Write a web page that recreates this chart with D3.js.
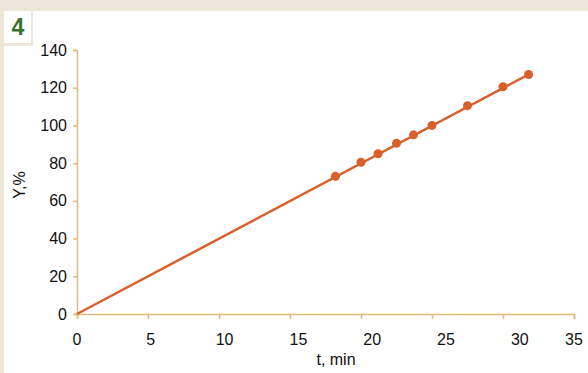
<!DOCTYPE html>
<html>
<head>
<meta charset="utf-8">
<script src="https://cdn.jsdelivr.net/npm/d3@7"></script>
<style>
	html, body { margin: 0; padding: 0; background: #ede6d9; }
	svg { display: block; }
	text { font-family: "Liberation Sans", Arial, sans-serif; }
</style>
</head>
<body>
<svg id="chart" width="588" height="373"></svg>
<script>
'use strict';

// measured points, t (min) vs Y (%)
var tValues = [18.2, 20.0, 21.2, 22.5, 23.7, 25.0, 27.5, 30.0, 31.8];
var yValues = [73, 80.5, 85, 90.5, 95, 100, 110.5, 120.5, 127];
// line drawn from the origin through the points
var lineT = [0, 31.8];
var lineY = [0, 127];
var xTicks = [0, 5, 10, 15, 20, 25, 30, 35];
var yTicks = [0, 20, 40, 60, 80, 100, 120, 140];
var panelNumber = '4';

var axisColor = '#e0ba7c',
	seriesColor = '#d95f2b';

var svg = d3.select('#chart');

// white panels with the beige frame round the number box
svg.append('rect').attr('x', 4).attr('y', 11).attr('width', 584).attr('height', 362).attr('fill', '#fff');
svg.append('rect').attr('x', 31).attr('y', 11).attr('width', 2).attr('height', 35).attr('fill', '#ede6d9');
svg.append('rect').attr('x', 4).attr('y', 43).attr('width', 29).attr('height', 3).attr('fill', '#ede6d9');
svg.append('text')
	.attr('x', 18).attr('y', 35)
	.attr('text-anchor', 'middle')
	.attr('font-size', 23).attr('font-weight', 'bold')
	.attr('fill', '#3b7230')
	.text(panelNumber);

var x = d3.scaleLinear().domain([0, 35]).range([77, 574]);
var y = d3.scaleLinear().domain([0, 140]).range([314, 50]);
// the tick labels sit a little wider apart than the ticks, as in the source
var xLabel = d3.scaleLinear().domain([0, 35]).range([77, 77 + 73.8 * 7]);

// y axis
var yAxis = svg.append('g').attr('transform', 'translate(' + x(0) + ',0)')
	.call(d3.axisLeft(y).tickValues(yTicks).tickSize(4).tickPadding(6));
yAxis.select('.domain').attr('stroke', axisColor).attr('stroke-width', 1.5);
yAxis.selectAll('.tick line').attr('stroke', axisColor).attr('stroke-width', 1.5);
yAxis.selectAll('.tick text')
	.attr('font-size', 16).attr('fill', '#111')
	.attr('font-family', '"Liberation Sans", Arial, sans-serif');

// x axis
var xAxis = svg.append('g').attr('transform', 'translate(0,' + y(0) + ')')
	.call(d3.axisBottom(x).tickValues(xTicks).tickSize(5).tickFormat(''));
xAxis.select('.domain').attr('stroke', axisColor).attr('stroke-width', 1.5);
xAxis.selectAll('.tick line').attr('stroke', axisColor).attr('stroke-width', 1.5);

svg.append('g').selectAll('text')
	.data(xTicks)
	.enter().append('text')
	.attr('x', function (d) { return Math.min(xLabel(d), x(35)); })
	.attr('y', 345)
	.attr('text-anchor', 'middle')
	.attr('font-size', 16).attr('fill', '#111')
	.text(function (d) { return d; });

// axis titles
svg.append('text')
	.attr('x', 336).attr('y', 365)
	.attr('text-anchor', 'middle')
	.attr('font-size', 16).attr('fill', '#111')
	.text('t, min');
svg.append('text')
	.attr('transform', 'translate(25,185) rotate(-90)')
	.attr('text-anchor', 'middle')
	.attr('font-size', 16).attr('fill', '#111')
	.text('Y,%');

// line and points
svg.append('path')
	.datum(lineT.map(function (t, i) { return [t, lineY[i]]; }))
	.attr('fill', 'none')
	.attr('stroke', seriesColor)
	.attr('stroke-width', 2.5)
	.attr('d', d3.line().x(function (d) { return x(d[0]); }).y(function (d) { return y(d[1]); }));

svg.append('g').selectAll('circle')
	.data(tValues.map(function (t, i) { return [t, yValues[i]]; }))
	.enter().append('circle')
	.attr('cx', function (d) { return x(d[0]); })
	.attr('cy', function (d) { return y(d[1]); })
	.attr('r', 4.5)
	.attr('fill', seriesColor);
</script>
</body>
</html>
